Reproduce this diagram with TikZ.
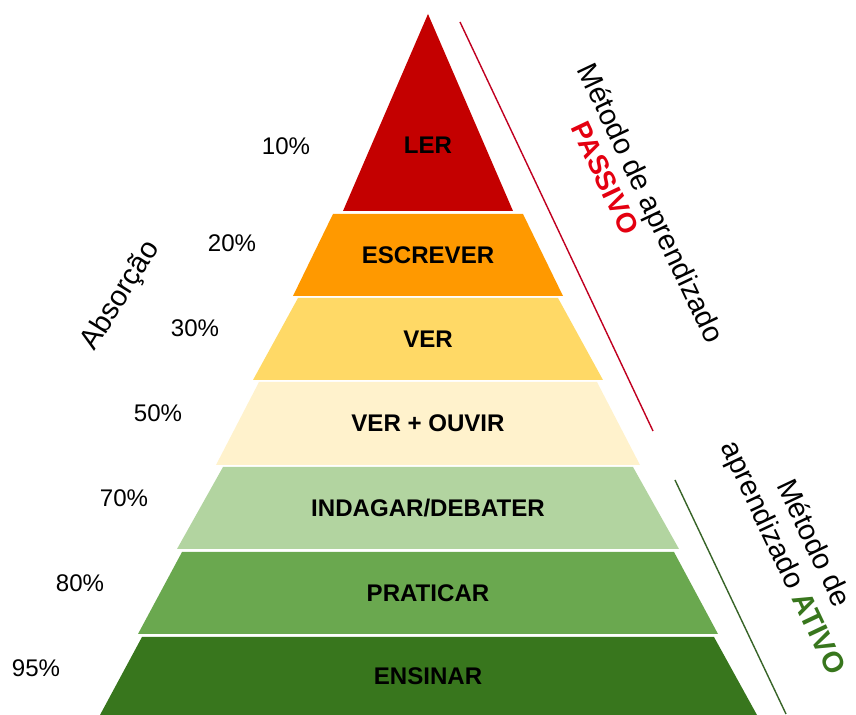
\documentclass[tikz,border=0pt]{standalone}
\usepackage{fontspec}
\setmainfont{Liberation Sans}
\definecolor{pir_ler}{RGB}{196, 0, 0}
\definecolor{pir_escrever}{RGB}{255, 153, 0}
\definecolor{pir_ver}{RGB}{255, 217, 102}
\definecolor{pir_ouvir}{RGB}{255, 242, 204}
\definecolor{pir_indagar}{RGB}{178, 212, 160}
\definecolor{pir_praticar}{RGB}{106, 168, 79}
\definecolor{pir_ensinar}{RGB}{56, 118, 29}
\definecolor{pir_passivo}{RGB}{228, 0, 16}
\definecolor{pir_linhaverm}{RGB}{192, 0, 32}
\definecolor{pir_linhaverde}{RGB}{56, 100, 40}
\usepackage{tikz}
\usetikzlibrary{positioning}

\begin{document}
\begin{tikzpicture}[x=0.02cm, y=-0.02cm,
      camada/.style={font=\bfseries\fontsize{13.7}{16}\selectfont, text=black},
      pct/.style={font=\fontsize{13.7}{16}\selectfont},
      metodo/.style={font=\fontsize{16.5}{19.5}\selectfont, rotate=-64.7,
                     align=center},
      linha/.style={line width=0.8pt},
    ]
      \useasboundingbox (0,0) rectangle (856,715);

      % camadas da piramide
      \fill[pir_ler]      (428,14) -- (513,211) -- (343,211) -- cycle;
      \fill[pir_escrever] (333,214) -- (523,214) -- (563,296) -- (293,296) -- cycle;
      \fill[pir_ver]      (298,298) -- (558,298) -- (603,380) -- (253,380) -- cycle;
      \fill[pir_ouvir]    (259,382) -- (597,382) -- (640,465) -- (216,465) -- cycle;
      \fill[pir_indagar]  (223,467) -- (633,467) -- (679,549) -- (177,549) -- cycle;
      \fill[pir_praticar] (182,552) -- (674,552) -- (718,634) -- (138,634) -- cycle;
      \fill[pir_ensinar]  (142,637) -- (714,637) -- (757,715) -- (100,715) -- cycle;

      \node[camada] (ler)      at (428,145) {LER};
      \node[camada] (escrever) at (428,255) {ESCREVER};
      \node[camada] (ver)      at (428,339) {VER};
      \node[camada] (ouvir)    at (428,423) {VER + OUVIR};
      \node[camada] (indagar)  at (428,508) {INDAGAR/DEBATER};
      \node[camada] (praticar) at (428,593) {PRATICAR};
      \node[camada] (ensinar)  at (428,676) {ENSINAR};

      \node[pct] (p10) at (286,146) {10\%};
      \node[pct] (p20) at (232,243) {20\%};
      \node[pct] (p30) at (195,328) {30\%};
      \node[pct] (p50) at (158,413) {50\%};
      \node[pct] (p70) at (124,498) {70\%};
      \node[pct] (p80) at (80,583)  {80\%};
      \node[pct] (p95) at (36,668)  {95\%};

      \node[font=\fontsize{16.5}{19.5}\selectfont, rotate=58]
            (absorcao) at (121,296) {Absorção};

      % linhas laterais
      \coordinate (passivo_a) at (460,22);
      \coordinate (passivo_b) at (653,431);
      \coordinate (ativo_a)   at (675,480);
      \coordinate (ativo_b)   at (786,714);
      \draw[linha, pir_linhaverm]  (passivo_a) -- (passivo_b);
      \draw[linha, pir_linhaverde] (ativo_a) -- (ativo_b);

      \node[metodo] (met_passivo) at (649,204) {Método de aprendizado};
      \node[metodo, font=\bfseries\fontsize{15.8}{19}\selectfont,
            text=pir_passivo] (passivo) at (605,178) {PASSIVO};
      \node[metodo] (met_ativo) at (797,551)
            {Método de\\aprendizado \textcolor{pir_ensinar}{\textbf{ATIVO}}};
    \end{tikzpicture}
\end{document}
